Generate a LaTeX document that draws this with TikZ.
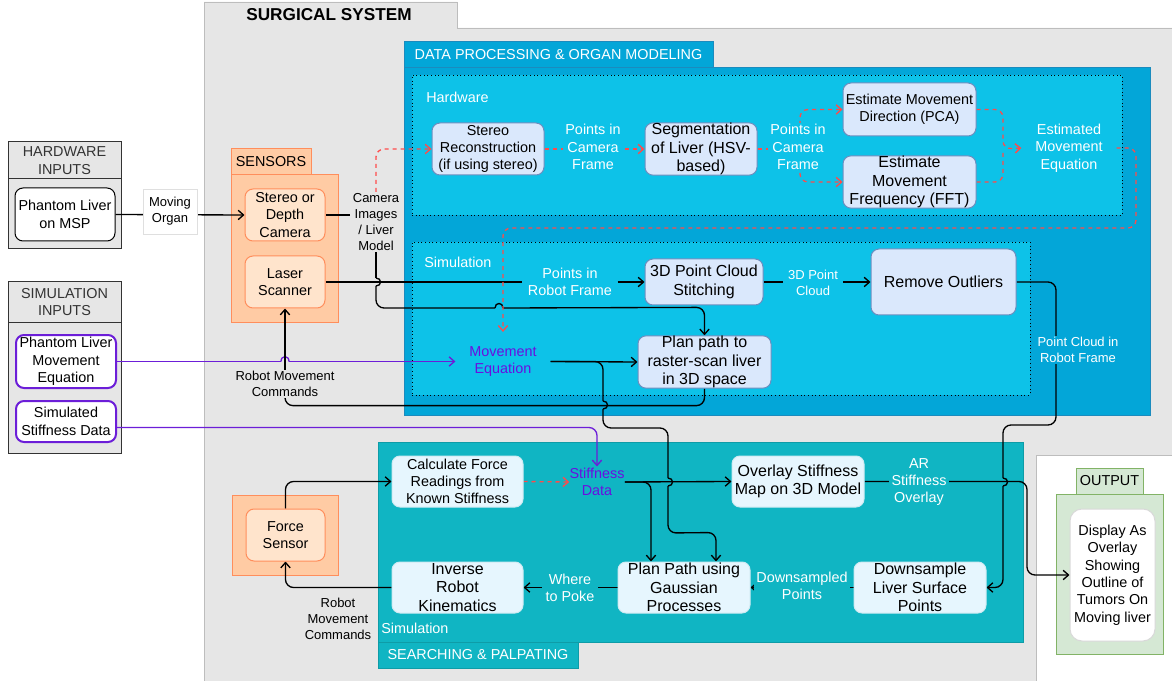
\documentclass[tikz,border=0pt]{standalone}
\usepackage{fontspec}
\setmainfont{Liberation Sans}
\usetikzlibrary{arrows.meta,calc}
\definecolor{bggray}{HTML}{E6E6E6}
\definecolor{bgline}{HTML}{BDBDBD}
\definecolor{hdrtxt}{HTML}{333333}
\definecolor{dpblue}{HTML}{03A6D8}
\definecolor{dpline}{HTML}{1B8BBE}
\definecolor{dpinner}{HTML}{0DC2E8}
\definecolor{bxblue}{HTML}{DAE8FC}
\definecolor{bxblueline}{HTML}{6C8EBF}
\definecolor{tealbg}{HTML}{10B5C3}
\definecolor{tealline}{HTML}{0E9CA7}
\definecolor{bxlight}{HTML}{E6F6FE}
\definecolor{bxlightline}{HTML}{CFEAF2}
\definecolor{orfill}{HTML}{FFCBA4}
\definecolor{orline}{HTML}{FF8E5C}
\definecolor{orbox}{HTML}{FFE4CC}
\definecolor{purp}{HTML}{6C1ED8}
\definecolor{purptxt}{HTML}{6A0FE0}
\definecolor{reddash}{HTML}{FF4B4B}
\definecolor{grfill}{HTML}{D5E8D4}
\definecolor{grline}{HTML}{82B366}
\newcommand\fnorm{\fontsize{10.8}{13}\selectfont}
\newcommand\fbig{\fontsize{12}{14}\selectfont}
\newcommand\fsml{\fontsize{9.75}{12}\selectfont}
\pgfdeclarelayer{bglayer}
\pgfdeclarelayer{edgelayer}
\pgfsetlayers{bglayer,edgelayer,main}
\begin{document}
\begin{tikzpicture}[x=0.75pt,y=-0.75pt,
  every node/.style={inner sep=0pt, align=center, font=\fnorm},
  bb/.style n args={4}{at={({(#1+#3)/2},{(#2+#4)/2})}, minimum width={(#3-#1)*0.75pt}, minimum height={(#4-#2)*0.75pt}},
  grp/.style={rectangle, line width=0.75pt},
  bx/.style={rectangle, rounded corners=6pt, line width=0.75pt},
  bxw/.style={bx, fill=white, draw=black},
  bxp/.style={bx, fill=white, draw=purp, line width=1.5pt},
  bxo/.style={bx, fill=orbox, draw=orline},
  bxb/.style={bx, fill=bxblue, draw=bxblueline},
  bxl/.style={bx, fill=bxlight, draw=bxlightline},
  lbl/.style={inner xsep=2pt, inner ysep=1pt},
  ln/.style={line width=1pt, black},
  arrtip/.style={-{Straight Barb[length=4pt,width=7pt]}},
  arr/.style={ln, arrtip},
  rdl/.style={line width=1pt, reddash, dash pattern=on 3pt off 3pt},
  rd/.style={rdl, arrtip},
  pln/.style={line width=1pt, purp},
  pl/.style={pln, arrtip},
  rc/.style={rounded corners=6pt}
]
\useasboundingbox (0,0) rectangle (1172,681);

\begin{pgfonlayer}{bglayer}
\fill[white] (0,0) rectangle (1172,681);
\path[fill=bggray, draw=bgline, line width=0.6pt] (204,2) -- (457,2) -- (457,28) -- (1172,28) -- (1172,455) -- (1036,455) -- (1036,681) -- (204,681) -- cycle;
\node[font=\bfseries\fontsize{12.9}{15}\selectfont] (systitle) at (329,15) {SURGICAL SYSTEM};

% inputs
\node[grp, fill=bggray, draw=hdrtxt, bb={8}{142}{121}{179}, text=hdrtxt] (hwhdr) {HARDWARE\\INPUTS};
\node[grp, fill=bggray, draw=hdrtxt, bb={8}{179}{121}{249}] (hwbody) {};
\node[grp, fill=bggray, draw=hdrtxt, bb={8}{282}{121}{322}, text=hdrtxt] (simhdr) {SIMULATION\\INPUTS};
\node[grp, fill=bggray, draw=hdrtxt, bb={8}{322}{121}{453}] (simbody) {};

% sensors
\node[grp, fill=orfill, draw=orline, bb={231}{149}{311}{175}] (senstab) {SENSORS};
\node[grp, fill=orfill, draw=orline, bb={231}{175}{338}{322}] (sensbox) {};

% data processing
\node[grp, fill=dpblue, draw=dpline, bb={404}{42}{713}{68}, text=white] (dptab) {DATA PROCESSING \& ORGAN MODELING};
\node[grp, fill=dpblue, draw=dpline, bb={404}{68}{1150}{415}] (dpbox) {};
\node[grp, fill=dpinner, draw=black, dotted, line width=0.6pt, bb={412}{75}{1122}{215}] (hwdot) {};
\node[grp, fill=dpinner, draw=black, dotted, line width=0.6pt, bb={412}{242}{1030}{395}] (simdot) {};

% searching
\node[grp, fill=tealbg, draw=tealline, bb={378}{442}{1023}{642}] (srbox) {};
\node[grp, fill=tealbg, draw=tealline, bb={378}{642}{578}{668}, text=white] (srtab) {SEARCHING \& PALPATING};

% force sensor group
\node[grp, fill=orfill, draw=orline, bb={232}{495}{338}{575}] (fsbox) {};

% output
\node[grp, fill=grfill, draw=grline, bb={1076}{468}{1143}{494}] (outtab) {OUTPUT};
\node[grp, fill=grfill, draw=grline, bb={1056}{494}{1163}{654}] (outbox) {};
\end{pgfonlayer}

% region captions
\node[anchor=west, text=white] (hwlbl) at (426,97) {Hardware};
\node[anchor=west, text=white] (simlbl) at (424,262) {Simulation};
\node[anchor=west, text=white] (srlbl) at (381,628) {Simulation};

% input boxes
\node[bxw, bb={15}{188}{115}{241}] (phmsp) {Phantom Liver\\on MSP};
\node[bxp, bb={16}{335}{116}{388}] (pheq) {Phantom Liver\\Movement\\Equation};
\node[bxp, bb={16}{401}{116}{442}] (simst) {Simulated\\Stiffness Data};
\node[fill=white, draw=gray!25, line width=0.5pt, bb={143}{189}{197}{234}, font=\fsml] (lmov) {Moving\\Organ};

% sensors
\node[bxo, bb={245}{189}{325}{241}] (cam) {Stereo or\\Depth\\Camera};
\node[bxo, bb={245}{256}{325}{308}] (laser) {Laser\\Scanner};
\node[bxo, bb={246}{509}{325}{561}] (fsens) {Force\\Sensor};

% data processing boxes
\node[bxb, bb={432}{123}{544}{175}] (stereo) {Stereo\\Reconstruction\\(if using stereo)};
\node[bxb, bb={645}{123}{757}{175}, font=\fbig] (seg) {Segmentation\\of Liver (HSV-\\based)};
\node[bxb, bb={843}{83}{976}{136}] (pca) {Estimate Movement\\Direction (PCA)};
\node[bxb, bb={843}{156}{976}{208}, font=\fbig] (fft) {Estimate\\Movement\\Frequency (FFT)};
\node[bxb, bb={645}{259}{763}{305}, font=\fbig] (stitch) {3D Point Cloud\\Stitching};
\node[bxb, bb={871}{249}{1016}{315}, font=\fbig] (outl) {Remove Outliers};
\node[bxb, bb={638}{336}{771}{388}, font=\fbig] (raster) {Plan path to\\raster-scan liver\\in 3D space};

% searching boxes
\node[bxl, bb={392}{456}{523}{507}] (calc) {Calculate Force\\Readings from\\Known Stiffness};
\node[bxl, bb={732}{456}{864}{507}, font=\fbig] (ovl) {Overlay Stiffness\\Map on 3D Model};
\node[bxl, bb={392}{562}{523}{613}, font=\fbig] (inv) {Inverse\\Robot\\Kinematics};
\node[bxl, bb={618}{562}{750}{613}, font=\fbig] (gp) {Plan Path using\\Gaussian\\Processes};
\node[bxl, bb={854}{562}{986}{613}, font=\fbig] (down) {Downsample\\Liver Surface\\Points};

% output box
\node[bx, rounded corners=9pt, fill=white, draw=gray!30, bb={1070}{509}{1155}{641}] (disp) {Display As\\Overlay\\Showing\\Outline of\\Tumors On\\Moving liver};

% edge labels
\node[lbl, fill=bggray, font=\fsml] (lcam) at (376,222) {Camera\\Images\\/ Liver\\Model};
\node[lbl, fill=dpinner, text=white] (lpc1) at (593,147) {Points in\\Camera\\Frame};
\node[lbl, fill=dpinner, text=white] (lpc2) at (798,147) {Points in\\Camera\\Frame};
\node[lbl, fill=dpinner, text=white, minimum width=71pt] (lest) at (1069,148) {Estimated\\Movement\\Equation};
\node[lbl, fill=dpinner, text=white, inner xsep=4pt] (lprob) at (570,282) {Points in\\Robot Frame};
\node[lbl, fill=dpinner, text=white, font=\fsml, inner xsep=4pt] (l3d) at (813,283) {3D Point\\Cloud};
\node[lbl, fill=dpblue, text=white, font=\fsml] (lpcrob) at (1078,350) {Point Cloud in\\Robot Frame};
\node[lbl, fill=dpinner, text=purptxt, minimum width=71pt, minimum height=44pt] (lmeq) at (503,361.5) {Movement\\Equation};
\node[lbl, fill=bggray, font=\fsml] (lrmc1) at (285,384) {Robot Movement\\Commands};
\node[lbl, fill=tealbg, text=purptxt, inner xsep=0pt] (lstiff) at (597,482) {Stiffness\\Data};
\node[lbl, fill=tealbg, text=white] (lar) at (919,482) {AR\\Stiffness\\Overlay};
\node[lbl, fill=tealbg, text=white, inner xsep=3pt] (lwhere) at (570,588) {Where\\to Poke};
\node[lbl, fill=tealbg, text=white] (ldown) at (802,586) {Downsampled\\Points};
\node[lbl, font=\fsml] (lrmc2) at (338,619) {Robot\\Movement\\Commands};

\begin{pgfonlayer}{edgelayer}
% hardware inputs / sensors
\draw[arr] (phmsp.east) -- (cam.west);
\draw[ln] (cam.east) -- (cam.east -| lcam.west);
\draw[rd, rc] (lcam.north) |- (stereo.west);
% camera images -> plan path (with two line jumps)
\draw[ln] (lcam.south) -- (376,278);
\draw[ln] (376,278) .. controls (382,278) and (382,286) .. (376,286);
\draw[ln, rc] (376,286) -- (376,308) -- (495,308);
\draw[ln] (495,308) .. controls (495,302) and (503,302) .. (503,308);
\draw[arr, rc] (503,308) -- ($(raster.north)+(0,-28)$) -- (raster.north);
\draw[ln] (laser.east) -- (lprob.west);
\draw[arr] (lprob.east) -- (stitch.west);

% hardware processing chain (red dashed)
\draw[rd] (stereo.east) -- (seg.west);
\coordinate (j1) at (800,149);
\draw[rdl] (seg.east) -- (j1);
\draw[rd, rc] (j1) |- (pca.west);
\draw[rd, rc] (j1) |- (fft.west);
\coordinate (j2) at (1003,149);
\draw[rd, rc] (pca.east) -| (j2) -- (lest.west);
\draw[rdl, rc] (fft.east) -| (j2);
\draw[rd, rc] (lest.east) -| (1136,228) -| (lmeq.north);

% simulation chain
\draw[pln] (pheq.east) -- (281,361.5);
\draw[pln] (281,361.5) .. controls (281,355) and (289,355) .. (289,361.5);
\draw[pl] (289,361.5) -- (lmeq.west);
\draw[arr] (lmeq.east) -- (raster.west);
\draw[ln, rc] (lmeq.east) -- (603,361.5) -- (603,401);
\draw[ln] (603,401) .. controls (609,401) and (609,409) .. (603,409);
\draw[ln, rc] (603,409) -- (603,428) -- (668,428) -- (668,478);
\draw[ln] (668,478) .. controls (674,478) and (674,486) .. (668,486);
\draw[arr, rc] (668,486) -- (668,533) -- ($(gp.north)+(32,-29)$) -- ($(gp.north)+(32,0)$);
\draw[ln, rc] (raster.south) -- ++(0,17) -| (lrmc1.south);
\draw[arr] (lrmc1.north) -- (laser.south);
\draw[arr] (stitch.east) -- (outl.west);
\draw[ln, rc] (outl.east) -| (1056,425) -| (1003,478);
\draw[ln] (1003,478) .. controls (1009,478) and (1009,486) .. (1003,486);
\draw[arr, rc] (1003,486) |- (down.east);

% searching & palpating
\draw[pl, rc] ($(simst.east)+(0,6)$) -| (lstiff.north);
\draw[rd] (calc.east) -- (lstiff.west);
\draw[arr] (lstiff.east) -- (ovl.west);
\draw[arr, rc] (lstiff.east) -| ($(gp.north)+(-33,0)$);
\draw[arr, rc] (fsens.north) |- (calc.west);
\draw[arr, rc] (inv.west) -| (fsens.south);
\draw[arr] (gp.west) -- (inv.east);
\draw[arr] (down.west) -- (gp.east);
\draw[arr, rc] (ovl.east) -| (1027,540) |- (disp.west);
\end{pgfonlayer}
\end{tikzpicture}
\end{document}
